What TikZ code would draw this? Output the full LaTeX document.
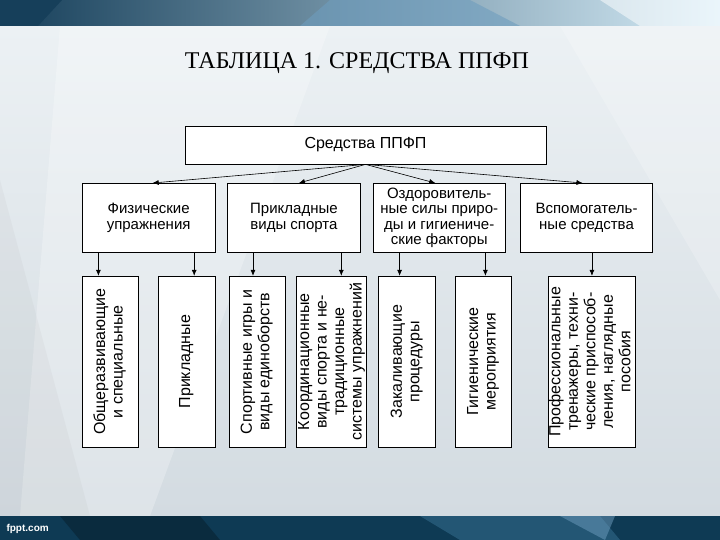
\documentclass[tikz,border=0pt]{standalone}
\usepackage{fontspec}
\setmainfont{Liberation Sans}
\newfontfamily\titlefont{Liberation Serif}
\usetikzlibrary{positioning, arrows.meta}

\definecolor{bandDark}{HTML}{163F5A}
\definecolor{bandMid}{HTML}{6E9DBE}
\definecolor{bandLight}{HTML}{D6ECF7}
\definecolor{footDark}{HTML}{0E3A54}
\definecolor{footMid}{HTML}{2C6283}
\definecolor{pageTop}{HTML}{ECF1F4}
\definecolor{pageBottom}{HTML}{D3DBE1}

\newcommand{\vtext}[1]{\rotatebox{90}{\begin{tabular}{@{}c@{}}#1\end{tabular}}}

\begin{document}
\begin{tikzpicture}[x=1pt, y=-1pt,
                topnode/.style={rectangle, draw=black, fill=white, line width=0.8pt, minimum width=361pt, minimum height=38pt, inner sep=0pt, font=\fontsize{16}{18}\selectfont},
                midnode/.style={rectangle, draw=black, fill=white, line width=0.8pt, minimum width=132.5pt, minimum height=69pt, inner sep=0pt, align=center, font=\fontsize{15}{15.5}\selectfont},
                lownode/.style={rectangle, draw=black, fill=white, line width=0.8pt, minimum height=171pt, inner sep=0pt, font=\fontsize{16}{17.5}\selectfont},
                arr/.style={-{Latex[length=6pt,width=5pt]}, line width=0.6pt},
                ]
                \useasboundingbox (0,0) rectangle (720,540);
                %Background
                \shade[top color=pageTop, bottom color=pageBottom] (0,26) rectangle (720,516);
                \fill[white, opacity=0.25] (60,26) -- (330,26) -- (150,516) -- (20,516) -- cycle;
                \fill[white, opacity=0.2] (560,26) -- (720,26) -- (720,300) -- cycle;
                \fill[black!40, opacity=0.08] (0,180) -- (90,516) -- (0,516) -- cycle;
                \shade[left color=bandDark, right color=bandLight] (0,0) rectangle (720,26);
                \fill[bandDark] (0,0) -- (62,0) -- (38,26) -- (0,26) -- cycle;
                \fill[bandMid, opacity=0.6] (330,0) -- (470,0) -- (520,26) -- (300,26) -- cycle;
                \fill[white, opacity=0.5] (600,0) -- (720,0) -- (720,26) -- (640,26) -- cycle;
                \fill[footDark] (0,516) rectangle (720,540);
                \fill[footMid, opacity=0.7] (420,516) -- (600,516) -- (620,540) -- (460,540) -- cycle;
                \fill[bandMid, opacity=0.5] (560,516) -- (615,516) -- (605,540) -- cycle;
                \fill[black, opacity=0.25] (60,516) -- (200,516) -- (220,540) -- (80,540) -- cycle;
                \node[anchor=west, text=white, font=\bfseries\fontsize{10}{12}\selectfont] (fppt) at (3,529) {fppt.com};

                %Title
                \node[font=\titlefont\fontsize{24}{27}\selectfont] (title) at (357,63) {ТАБЛИЦА 1. СРЕДСТВА ППФП};

                %Nodes
                \node[topnode]                          (sredstva)  at (365.5,145) {Средства ППФП};
                \node[midnode, anchor=north west]       (fizupr)    at (82,183) {Физические\\упражнения};
                \node[midnode, right=12pt of fizupr]    (prikvid)   {Прикладные\\виды спорта};
                \node[midnode, right=12pt of prikvid]   (ozdor)     {Оздоровитель-\\ные силы приро-\\ды и гигиениче-\\ские факторы};
                \node[midnode, right=14pt of ozdor]     (vspom)     {Вспомогатель-\\ные средства};

                \node[lownode, minimum width=56pt, below=23pt of fizupr.south west, anchor=north west] (obshch) {\vtext{Общеразвивающие\\и специальные}};
                \node[lownode, minimum width=57pt, right=19pt of obshch]  (prikl)  {\vtext{Прикладные}};
                \node[lownode, minimum width=56pt, right=13pt of prikl]   (sport)  {\vtext{Спортивные игры и\\виды единоборств}};
                \node[lownode, minimum width=67pt, right=11pt of sport]   (koord)  {\vtext{Координационные\\виды спорта и не-\\традиционные\\системы упражнений}};
                \node[lownode, minimum width=57pt, right=11pt of koord]   (zakal)  {\vtext{Закаливающие\\процедуры}};
                \node[lownode, minimum width=56pt, right=19pt of zakal]   (gigien) {\vtext{Гигиенические\\мероприятия}};
                \node[lownode, minimum width=87pt, right=36pt of gigien]  (prof)   {\vtext{Профессиональные\\тренажеры, техни-\\ческие приспособ-\\ления, наглядные\\пособия}};

                %Lines
                \draw[arr] (sredstva.south) -- ([xshift=4pt]fizupr.north);
                \draw[arr] (sredstva.south) -- ([xshift=5pt]prikvid.north);
                \draw[arr] (sredstva.south) -- ([xshift=-4pt]ozdor.north);
                \draw[arr] (sredstva.south) -- ([xshift=-4pt]vspom.north);
                \draw[arr] ([xshift=-12pt]obshch.north |- fizupr.south) -- ([xshift=-12pt]obshch.north);
                \draw[arr] ([xshift=7.5pt]prikl.north |- fizupr.south) -- ([xshift=7.5pt]prikl.north);
                \draw[arr] ([xshift=-4pt]sport.north |- prikvid.south) -- ([xshift=-4pt]sport.north);
                \draw[arr] ([xshift=9.5pt]koord.north |- prikvid.south) -- ([xshift=9.5pt]koord.north);
                \draw[arr] ([xshift=-7.5pt]zakal.north |- ozdor.south) -- ([xshift=-7.5pt]zakal.north);
                \draw[arr] ([xshift=2pt]gigien.north |- ozdor.south) -- ([xshift=2pt]gigien.north);
                \draw[arr] (prof.north |- vspom.south) -- (prof.north);
\end{tikzpicture}
\end{document}
